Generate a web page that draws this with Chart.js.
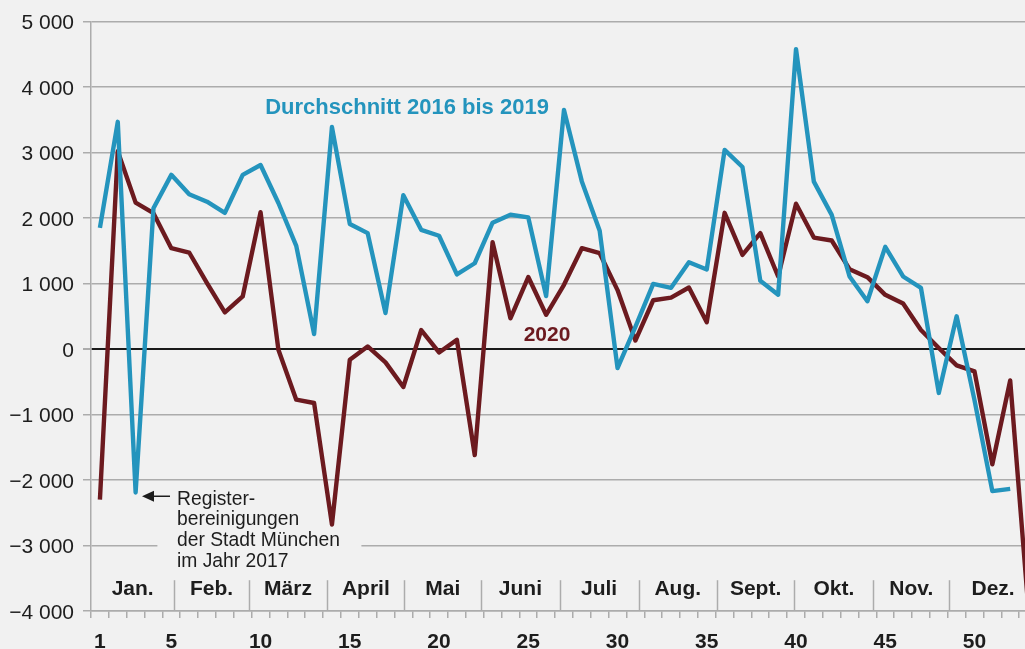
<!DOCTYPE html>
<html><head><meta charset="utf-8">
<script src="https://cdn.jsdelivr.net/npm/chart.js@4.4.1/dist/chart.umd.min.js"></script>
<style>
html,body{margin:0;padding:0;background:#f1f1f1;overflow:hidden}
#wrap{width:1025px;height:649px;position:relative}
</style>
</head><body><div id="wrap"><canvas id="c" width="1025" height="649"></canvas></div>
<script>
// ---- data ----
const weeks = [1,2,3,4,5,6,7,8,9,10,11,12,13,14,15,16,17,18,19,20,21,22,23,24,25,26,27,28,29,30,31,32,33,34,35,36,37,38,39,40,41,42,43,44,45,46,47,48,49,50,51,52,53];
const avg2016to2019 = [1850,3470,-2190,2150,2660,2365,2250,2080,2660,2810,2230,1575,230,3390,1910,1770,550,2350,1820,1730,1140,1310,1930,2050,2010,810,3650,2560,1805,-290,340,995,935,1325,1215,3040,2780,1042,830,4580,2557,2049,1108,730,1560,1108,935,-670,500,-780,-2170,-2136,null];
const y2020 = [-2300,3020,2236,2075,1540,1474,1006,560,803,2090,-10,-773,-824,-2680,-163,40,-204,-580,290,-52,140,-1620,1630,470,1100,523,981,1540,1464,900,130,745,785,940,410,2080,1438,1770,1108,2220,1702,1657,1220,1098,828,695,290,15,-250,-341,-1760,-480,-3900];
const xTickLabels = [1,5,10,15,20,25,30,35,40,45,50];
const yTickValues = [-4000,-3000,-2000,-1000,0,1000,2000,3000,4000,5000];
const monthNames = ['Jan.','Feb.','März','April','Mai','Juni','Juli','Aug.','Sept.','Okt.','Nov.','Dez.'];
const monthBounds = [0.5,5.17,9.33,13.75,18.05,22.37,26.75,31.18,35.57,39.9,44.34,48.58,53.5];
const seriesNames = ['Durchschnitt 2016 bis 2019','2020'];
const noteLines = ['Register-','bereinigungen','der Stadt München','im Jahr 2017'];

// ---- style ----
const BLUE = '#2494bd';
const RED = '#6c1a1f';
const GRID = '#acacac';
const TEXT = '#1d1d1d';
const BG = '#f1f1f1';
const FONT = '"Liberation Sans", Arial, Helvetica, sans-serif';

function fmt(v){
  const a = Math.abs(v);
  const s = String(a).replace(/\B(?=(\d{3})+(?!\d))/g,' ');
  return (v<0?'\u2212':'') + s;
}

const bgPlugin = {
  id:'bg',
  beforeDraw(chart){
    const c = chart.ctx;
    c.save(); c.fillStyle = BG; c.fillRect(0,0,chart.width,chart.height); c.restore();
  },
  beforeDatasetsDraw(chart){
    const c = chart.ctx, xs = chart.scales.x, ys = chart.scales.y;
    c.save();
    // gap in -3000 gridline behind the note
    const gy = ys.getPixelForValue(-3000);
    c.fillStyle = BG;
    c.fillRect(xs.getPixelForValue(4.22), gy-3, xs.getPixelForValue(15.65)-xs.getPixelForValue(4.22), 6);
    // month separators
    c.strokeStyle = GRID; c.lineWidth = 1.5;
    const top = ys.getPixelForValue(-3530), bot = ys.getPixelForValue(-4000);
    for (let i=1;i<monthBounds.length-1;i++){
      const x = Math.round(xs.getPixelForValue(monthBounds[i]))+0.5;
      c.beginPath(); c.moveTo(x,top); c.lineTo(x,bot); c.stroke();
    }
    // month names
    c.fillStyle = TEXT; c.font = 'bold 21px '+FONT; c.textAlign='center'; c.textBaseline='alphabetic';
    const by = ys.getPixelForValue(-3763);
    for (let i=0;i<monthNames.length;i++){
      const xm = xs.getPixelForValue((monthBounds[i]+monthBounds[i+1])/2);
      c.fillText(monthNames[i], xm, by);
    }
    c.restore();
  },
  afterDatasetsDraw(chart){
    const c = chart.ctx, xs = chart.scales.x, ys = chart.scales.y;
    c.save();
    c.textAlign='left'; c.textBaseline='alphabetic';
    c.font = 'bold 22px '+FONT; c.fillStyle = BLUE;
    c.fillText(seriesNames[0], xs.getPixelForValue(10.26), ys.getPixelForValue(3585));
    c.font = 'bold 21px '+FONT; c.fillStyle = RED;
    c.fillText(seriesNames[1], xs.getPixelForValue(24.74), ys.getPixelForValue(116));
    // note
    c.fillStyle = TEXT; c.font = '19.3px '+FONT;
    const nx = xs.getPixelForValue(5.32), ny = ys.getPixelForValue(-2375);
    noteLines.forEach((t,i)=> c.fillText(t, nx, ny + i*20.7));
    // arrow
    const ax = xs.getPixelForValue(3.357), ay = ys.getPixelForValue(-2248);
    c.strokeStyle = TEXT; c.lineWidth = 1.5;
    c.beginPath(); c.moveTo(ax+8, ay); c.lineTo(ax+28, ay); c.stroke();
    c.beginPath(); c.moveTo(ax, ay); c.lineTo(ax+12, ay-5.5); c.lineTo(ax+12, ay+5.5); c.closePath(); c.fill();
    c.restore();
  }
};

const toPts = arr => weeks.map((w,i)=>({x:w, y:arr[i]}));

new Chart(document.getElementById('c'), {
  type:'line',
  data:{datasets:[
    {label:seriesNames[0], data:toPts(avg2016to2019), borderColor:BLUE, borderWidth:4.4, pointRadius:0, tension:0, borderJoinStyle:'round', borderCapStyle:'butt', spanGaps:false},
    {label:seriesNames[1], data:toPts(y2020), borderColor:RED, borderWidth:4.4, pointRadius:0, tension:0, borderJoinStyle:'round', borderCapStyle:'butt', spanGaps:false}
  ]},
  options:{
    responsive:false, animation:false, devicePixelRatio:1,
    layout:{padding:{top:21,left:0,right:0,bottom:0}},
    plugins:{legend:{display:false}, tooltip:{enabled:false}},
    scales:{
      x:{
        type:'linear', min:0.5, max:52.83,
        afterBuildTicks(s){
          const t=[];
          for (let i=0;i<53;i++){ t.push({value:i+0.5}); if (xTickLabels.includes(i+1)) t.push({value:i+1}); }
          s.ticks = t.filter(k=>k.value<=52.83);
        },
        afterFit(s){ s.height = 38; s.paddingLeft = 0; s.paddingRight = 0; },
        grid:{drawOnChartArea:false, drawTicks:true, tickLength:7, lineWidth:1.5,
          tickColor: ctx => (ctx.tick && Math.abs(ctx.tick.value%1-0.5)<1e-6) ? GRID : 'rgba(0,0,0,0)'},
        border:{display:true, color:GRID, width:1.5},
        ticks:{autoSkip:false, maxRotation:0, padding:12, color:TEXT, font:{family:FONT, size:21, weight:'bold'},
          callback:(v)=> xTickLabels.includes(v) ? String(v) : ''}
      },
      y:{
        min:-4000, max:5000,
        afterBuildTicks(s){ s.ticks = yTickValues.map(v=>({value:v})); },
        afterFit(s){ s.width = 91; },
        grid:{color: ctx => (ctx.tick && ctx.tick.value===0) ? '#1a1a1a' : GRID,
              lineWidth: ctx => (ctx.tick && ctx.tick.value===0) ? 2 : 1.5,
              tickLength:8, tickColor:GRID, drawTicks:true},
        border:{display:true, color:GRID, width:1.5},
        ticks:{padding:9, labelOffset:2, color:TEXT, font:{family:FONT, size:21}, callback:(v)=>fmt(v)}
      }
    }
  },
  plugins:[bgPlugin]
});
</script>
</body></html>
